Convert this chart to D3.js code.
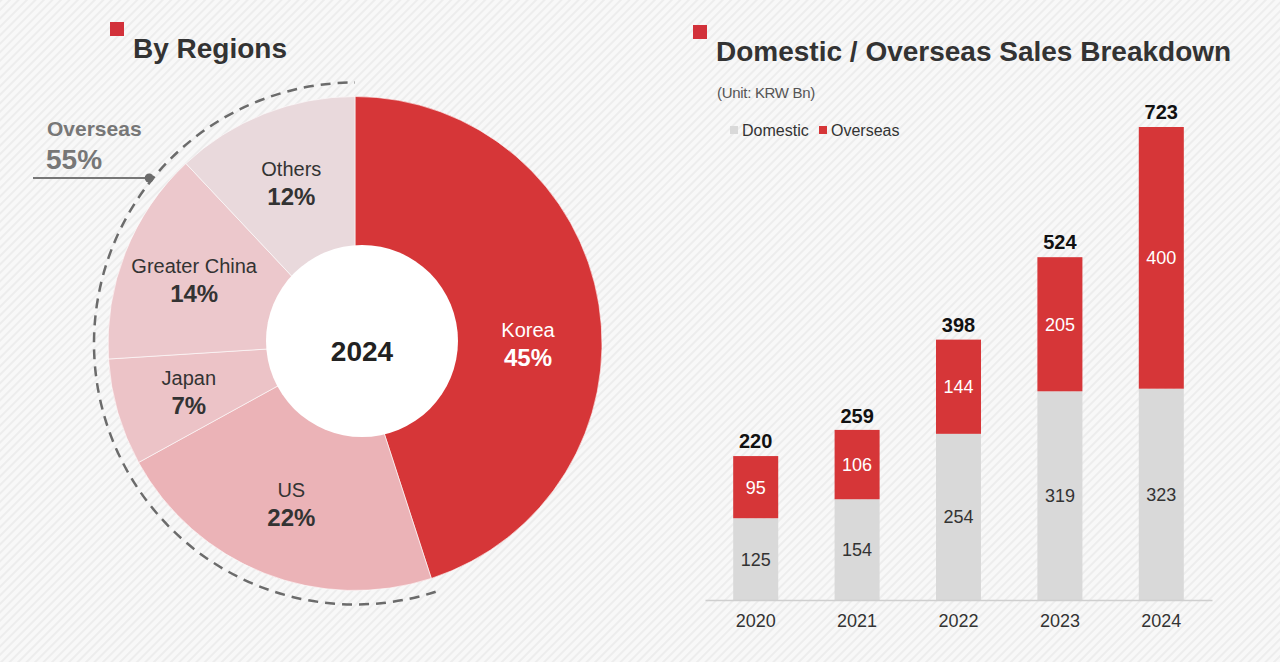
<!DOCTYPE html>
<html>
<head>
<meta charset="utf-8">
<script src="https://cdn.jsdelivr.net/npm/d3@7"></script>
<style>
  html, body { margin: 0; padding: 0; background: #f7f7f7; }
  svg { display: block; font-family: 'Liberation Sans', Arial, sans-serif; }
</style>
</head>
<body>
<div id="chart"></div>
<script>
// pie data (2024 share by region, %)
var regions = ['Korea', 'US', 'Japan', 'Greater China', 'Others']
var regionShare = [45, 22, 7, 14, 12]
var regionColors = ['#d63638', '#ebb3b7', '#ecc3c7', '#ecc8cc', '#e9d9dc']

// bar data (KRW Bn)
var years = ['2020', '2021', '2022', '2023', '2024']
var domestic = [125, 154, 254, 319, 323]
var overseas = [95, 106, 144, 205, 400]
var totals = [220, 259, 398, 524, 723]

var W = 1280, H = 662

var svg = d3.select('#chart').
  append('svg').
  attr('width', W).
  attr('height', H)

// striped background
var defs = svg.append('defs')
var pat = defs.append('pattern').
  attr('id', 'stripes').
  attr('width', 6).
  attr('height', 6).
  attr('patternUnits', 'userSpaceOnUse').
  attr('patternTransform', 'rotate(45)')
pat.append('rect').attr('width', 6).attr('height', 6).attr('fill', '#f8f8f8')
pat.append('rect').attr('width', 2).attr('height', 6).attr('fill', '#ededed')

svg.append('rect').
  attr('width', W).
  attr('height', H).
  attr('fill', 'url(#stripes)')

// ---------- titles ----------
function title (x, y, text) {
  svg.append('rect').
    attr('x', x - 23).attr('y', y - 36).
    attr('width', 14).attr('height', 14).
    attr('fill', '#d2313a')
  svg.append('text').
    attr('x', x).attr('y', y).
    attr('font-size', 28).
    attr('font-weight', 'bold').
    attr('fill', '#333').
    text(text)
}
title(133, 58, 'By Regions')
title(716, 61, 'Domestic / Overseas Sales Breakdown')

// ---------- donut ----------
var cx = 355, cy = 343.5, R = 247
var pieG = svg.append('g').attr('transform', 'translate(' + cx + ',' + cy + ')')

var pie = d3.pie().sort(null).value(d => d.value)
var arcs = pie(regions.map((r, i) => ({ name: r, value: regionShare[i], color: regionColors[i] })))

var arc = d3.arc().innerRadius(0).outerRadius(R)

pieG.selectAll('path.slice').
  data(arcs).
  enter().
  append('path').
  attr('class', 'slice').
  attr('d', arc).
  attr('fill', d => d.data.color).
  attr('stroke', 'rgba(255,255,255,0.6)').
  attr('stroke-width', 1)

// white hole
pieG.append('circle').
  attr('cx', 7).attr('cy', -2.5).
  attr('r', 96).
  attr('fill', '#fff')

pieG.append('text').
  attr('x', 7).attr('y', 17).
  attr('text-anchor', 'middle').
  attr('font-size', 28).
  attr('font-weight', 'bold').
  attr('fill', '#222').
  text('2024')

// label position: mid angle of the slice, the big one sits level with the centre
function labelPos (d, i) {
  var a = i === 0 ? Math.PI / 2 : (d.startAngle + d.endAngle) / 2
  var r = 173
  return [r * Math.sin(a), -r * Math.cos(a)]
}

var lab = pieG.selectAll('g.lab').
  data(arcs).
  enter().
  append('g').
  attr('class', 'lab').
  attr('transform', (d, i) => 'translate(' + labelPos(d, i) + ')')

lab.append('text').
  attr('y', -7).
  attr('text-anchor', 'middle').
  attr('font-size', 20).
  attr('fill', (d, i) => i === 0 ? '#fff' : '#333').
  text(d => d.data.name)

lab.append('text').
  attr('y', 22).
  attr('text-anchor', 'middle').
  attr('font-size', 24).
  attr('font-weight', 'bold').
  attr('fill', (d, i) => i === 0 ? '#fff' : '#333').
  text(d => d.data.value + '%')

// dashed overseas arc
var rDash = 261
var a0 = arcs[1].startAngle, a1 = arcs[arcs.length - 1].endAngle
var p = d3.path()
p.arc(0, 0, rDash, a0 - Math.PI / 2, a1 - Math.PI / 2)
pieG.append('path').
  attr('d', p.toString()).
  attr('fill', 'none').
  attr('stroke', '#6b6b6b').
  attr('stroke-width', 2.5).
  attr('stroke-dasharray', '10,7')

var overseasShare = d3.sum(regionShare.slice(1))
var markY = 178 - cy
var th = 2 * Math.PI - Math.acos(-markY / rDash)
var mx = rDash * Math.sin(th) - 4

pieG.append('line').
  attr('x1', 33 - cx).attr('x2', mx).
  attr('y1', markY).attr('y2', markY).
  attr('stroke', '#777').
  attr('stroke-width', 2)
pieG.append('circle').
  attr('cx', mx).attr('cy', markY).
  attr('r', 4.5).
  attr('fill', '#6b6b6b')

svg.append('text').
  attr('x', 47).attr('y', 136).
  attr('font-size', 21).
  attr('font-weight', 'bold').
  attr('fill', '#777').
  text('Overseas')
svg.append('text').
  attr('x', 46).attr('y', 169).
  attr('font-size', 28).
  attr('font-weight', 'bold').
  attr('fill', '#777').
  text(overseasShare + '%')

// ---------- stacked bars ----------
var x = d3.scaleBand().
  domain(years).
  range([705, 1212]).
  paddingInner(0.556).
  paddingOuter(0.278)

var y = d3.scaleLinear().
  domain([0, d3.max(totals)]).
  range([600, 127])

svg.append('text').
  attr('x', 717).attr('y', 98).
  attr('font-size', 15).
  attr('letter-spacing', -0.3).
  attr('fill', '#555').
  text('(Unit: KRW Bn)')

// legend
var legend = [['Domestic', '#d9d9d9', 730], ['Overseas', '#d63638', 819]]
legend.forEach(l => {
  svg.append('rect').
    attr('x', l[2]).attr('y', 126).
    attr('width', 8).attr('height', 8).
    attr('fill', l[1])
  svg.append('text').
    attr('x', l[2] + 12).attr('y', 136).
    attr('font-size', 16).
    attr('fill', '#333').
    text(l[0])
})

var bars = svg.selectAll('g.bar').
  data(years).
  enter().
  append('g').
  attr('class', 'bar')

bars.append('rect').
  attr('x', d => x(d)).
  attr('width', x.bandwidth()).
  attr('y', (d, i) => y(domestic[i])).
  attr('height', (d, i) => y(0) - y(domestic[i])).
  attr('fill', '#d9d9d9')

bars.append('rect').
  attr('x', d => x(d)).
  attr('width', x.bandwidth()).
  attr('y', (d, i) => y(domestic[i] + overseas[i])).
  attr('height', (d, i) => y(domestic[i]) - y(domestic[i] + overseas[i])).
  attr('fill', '#d63638')

bars.append('text').
  attr('x', d => x(d) + x.bandwidth() / 2).
  attr('y', (d, i) => (y(0) + y(domestic[i])) / 2).
  attr('dy', '0.36em').
  attr('text-anchor', 'middle').
  attr('font-size', 18).
  attr('fill', '#333').
  text((d, i) => domestic[i])

bars.append('text').
  attr('x', d => x(d) + x.bandwidth() / 2).
  attr('y', (d, i) => (y(domestic[i]) + y(domestic[i] + overseas[i])) / 2).
  attr('dy', '0.36em').
  attr('text-anchor', 'middle').
  attr('font-size', 18).
  attr('fill', '#fff').
  text((d, i) => overseas[i])

bars.append('text').
  attr('x', d => x(d) + x.bandwidth() / 2).
  attr('y', (d, i) => y(totals[i]) - 8).
  attr('text-anchor', 'middle').
  attr('font-size', 20).
  attr('font-weight', 'bold').
  attr('fill', '#111').
  text((d, i) => totals[i])

// x axis
var xAxis = svg.append('g').
  attr('transform', 'translate(0,600)').
  call(d3.axisBottom(x).tickSize(0).tickPadding(14))
xAxis.select('.domain').attr('stroke', '#cfcfcf').attr('stroke-width', 1.5)
xAxis.selectAll('text').
  attr('font-size', 18).
  attr('font-family', "'Liberation Sans', Arial, sans-serif").
  attr('fill', '#333')
</script>
</body>
</html>
